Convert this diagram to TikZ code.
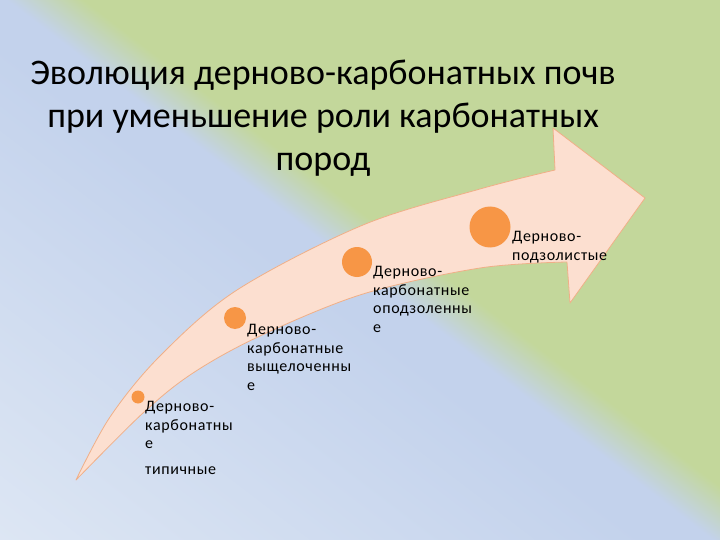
\documentclass[tikz,border=0pt]{standalone}
\usepackage{fontspec}
\setmainfont{Carlito}
\newfontfamily\labfont[LetterSpace=4]{Carlito}
\definecolor{bglight}{RGB}{222,231,244}
\definecolor{bgblue}{RGB}{195,210,236}
\definecolor{bggreen}{RGB}{195,215,155}
\definecolor{arrfill}{RGB}{252,223,208}
\definecolor{arrline}{RGB}{240,175,135}
\definecolor{dotcol}{RGB}{247,150,70}
\pgfdeclarehorizontalshading{bgshade}{100bp}{color(0bp)=(bglight); color(25bp)=(bglight); color(47.8bp)=(bgblue); color(50bp)=(bgblue); color(52.6bp)=(bggreen); color(100bp)=(bggreen)}
\tikzset{
  arrowsty/.style={fill=arrfill, draw=arrline, line width=0.8pt, line join=round},
  dot/.style={circle, fill=dotcol, draw=none, inner sep=0pt},
  ttl/.style={font=\fontsize{36}{43}\selectfont, text=black, inner sep=0pt, anchor=base},
  lbl/.style={font=\labfont\fontsize{16}{19}\selectfont, text=black, inner sep=0pt, anchor=base west}
}
\begin{document}
\begin{tikzpicture}[x=1pt,y=-1pt]
\useasboundingbox (0,0) rectangle (720,540);
\begin{scope}
  \clip (0,0) rectangle (720,540);
  \begin{scope}[transform canvas={shift={(372,254)},rotate=52.6}]
    \shade[shading=bgshade] (-470,-700) rectangle (430,700);
  \end{scope}
\end{scope}
% title
\node[ttl] (t1) at (323,85) {Эволюция дерново-карбонатных почв};
\node[ttl] (t2) at (323,128) {при уменьшение роли карбонатных};
\node[ttl] (t3) at (323,171) {пород};
% arrow
\filldraw[arrowsty] plot[smooth,tension=0.55] coordinates {(76,480) (110,417) (160,356) (237,290) (363,225) (480,189) (555,170)}
  -- (553,128) -- (645,198) -- (570,303)
  -- plot[smooth,tension=0.55] coordinates {(567,262) (480,268) (363,294) (260,336) (193,373) (143,413) (76,480)} -- cycle;
% dots
\node[dot, minimum size=13pt] (c1) at (138,397) {};
\node[dot, minimum size=22pt] (c2) at (235,318) {};
\node[dot, minimum size=30pt] (c3) at (357,262) {};
\node[dot, minimum size=41pt] (c4) at (490,227) {};
% labels
\node[lbl] (a1) at (145,411.5) {Дерново-};
\node[lbl] (a2) at (145,430) {карбонатны};
\node[lbl] (a3) at (145,448.5) {е};
\node[lbl] (a4) at (145,474.5) {типичные};
\node[lbl] (b1) at (247,334.5) {Дерново-};
\node[lbl] (b2) at (247,353) {карбонатные};
\node[lbl] (b3) at (247,371.5) {выщелоченны};
\node[lbl] (b4) at (247,390) {е};
\node[lbl] (d1) at (373,276.5) {Дерново-};
\node[lbl] (d2) at (373,295) {карбонатные};
\node[lbl] (d3) at (373,313.5) {оподзоленны};
\node[lbl] (d4) at (373,332) {е};
\node[lbl] (e1) at (512,241.5) {Дерново-};
\node[lbl] (e2) at (512,260) {подзолистые};
\end{tikzpicture}
\end{document}
